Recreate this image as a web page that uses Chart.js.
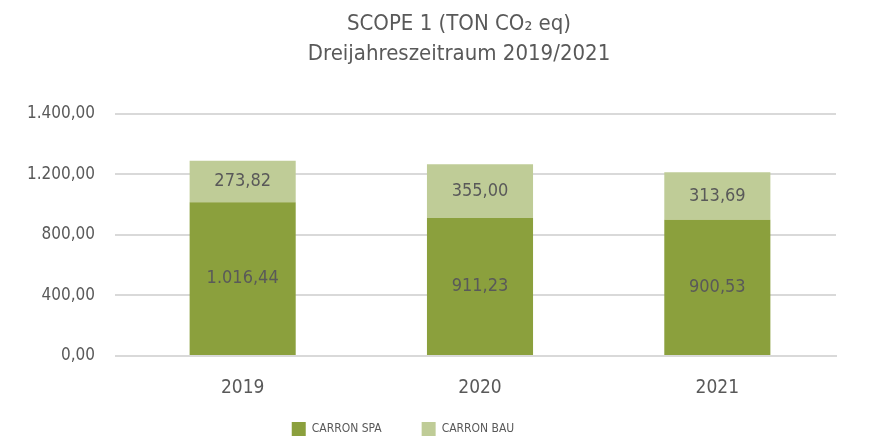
<!DOCTYPE html>
<html>
<head>
<meta charset="utf-8">
<script src="https://cdn.jsdelivr.net/npm/chart.js@4.4.1/dist/chart.umd.min.js"></script>
<style>
  html, body { margin: 0; padding: 0; background: #fff; }
  #wrap { width: 875px; height: 438px; position: relative; }
</style>
</head>
<body>
<div id="wrap"><canvas id="chart-scope1"></canvas></div>
<script>
const years = ['2019', '2020', '2021'];
const carronSpa = [1016.44, 911.23, 900.53];
const carronBau = [273.82, 355.00, 313.69];
const yTickLabels = ['0,00', '400,00', '800,00', '1.200,00', '1.400,00'];

const fontFam = "'Liberation Sans Narrow', 'DejaVu Sans Condensed', 'Roboto', sans-serif";
const textGrey = '#595959';

// formato italiano: 1.016,44
function fmt(v) {
  const parts = v.toFixed(2).split('.');
  parts[0] = parts[0].replace(/\B(?=(\d{3})+(?!\d))/g, '.');
  return parts.join(',');
}

// etichette al centro di ogni segmento
const segmentLabels = {
  id: 'segmentLabels',
  afterDatasetsDraw(chart) {
    const ctx = chart.ctx;
    ctx.save();
    ctx.font = "18px " + fontFam;
    ctx.fillStyle = textGrey;
    ctx.textAlign = 'center';
    ctx.textBaseline = 'middle';
    chart.data.datasets.forEach((ds, i) => {
      chart.getDatasetMeta(i).data.forEach((bar, j) => {
        const p = bar.getProps(['x', 'y', 'base'], true);
        ctx.fillText(fmt(ds.data[j]), p.x, (p.y + p.base) / 2);
      });
    });
    ctx.restore();
  }
};

// sposta titolo e legenda come nell'originale
const boxShift = {
  id: 'boxShift',
  afterLayout(chart) {
    const t = chart.titleBlock, l = chart.legend;
    if (t) { t.left += 41; t.right += 41; }
    if (l) { l.left -= 15; l.right -= 15; l.top += 10; l.bottom += 10; }
    // le etichette dell'asse x vengono ritagliate sul box della scala
    chart.scales.x.bottom = 410;
  }
};

const dataScope = {
  labels: years,
  datasets: [
    { label: 'CARRON SPA', data: carronSpa, backgroundColor: '#8ba03d' },
    { label: 'CARRON BAU', data: carronBau, backgroundColor: '#bfcc97' }
  ]
};

const configScope = {
  type: 'bar',
  data: dataScope,
  options: {
    responsive: true,
    maintainAspectRatio: false,
    animation: false,
    layout: { padding: { left: 0, right: 39, top: 0, bottom: 2 } },
    datasets: { bar: { categoryPercentage: 1, barPercentage: 0.447 } },
    scales: {
      x: {
        stacked: true,
        afterFit: (scale) => {
          scale.height = scale.chart.height - 2 - scale.chart.legend.height - 356;
        },
        grid: { display: false },
        border: { color: '#d9d9d9', width: 2 },
        ticks: { color: textGrey, font: { family: fontFam, size: 19 }, padding: 13 }
      },
      y: {
        stacked: true,
        min: 0,
        max: 1600,
        afterFit: (scale) => { scale.width = 124; },
        border: { display: false },
        grid: { color: '#d9d9d9', lineWidth: 2, tickLength: 9 },
        ticks: {
          stepSize: 400,
          padding: 20,
          color: textGrey,
          font: { family: fontFam, size: 17 },
          callback: (value, index) => yTickLabels[index]
        }
      }
    },
    plugins: {
      tooltip: { enabled: false },
      title: {
        display: true,
        text: ['SCOPE 1 (TON CO\u2082 eq)', 'Dreijahreszeitraum 2019/2021'],
        color: textGrey,
        font: { family: fontFam, size: 22, weight: 'normal', lineHeight: 1.36 },
        padding: { top: 9, bottom: 45 }
      },
      legend: {
        position: 'bottom',
        labels: {
          boxWidth: 14,
          boxHeight: 14,
          padding: 40,
          color: textGrey,
          font: { family: fontFam, size: 12 }
        }
      }
    }
  },
  plugins: [segmentLabels, boxShift]
};

const myChartScope = new Chart(
  document.getElementById('chart-scope1'),
  configScope
);
</script>
</body>
</html>
